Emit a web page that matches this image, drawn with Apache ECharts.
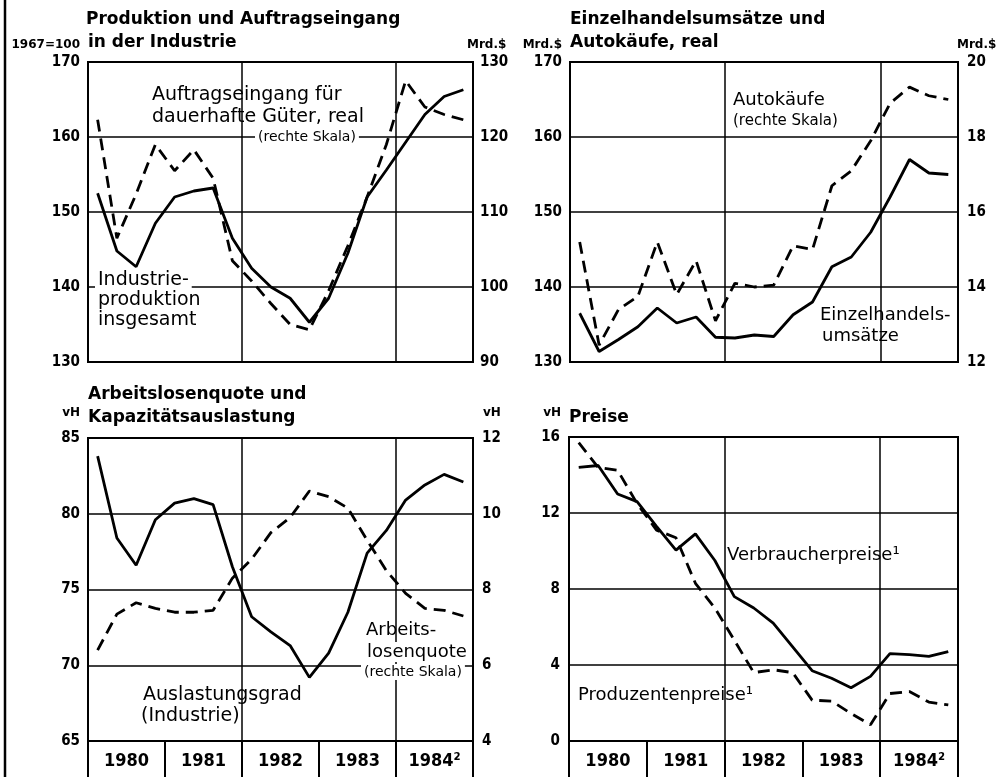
<!DOCTYPE html>
<html>
<head>
<meta charset="utf-8">
<title>USA Konjunktur 1980-1984</title>
<script src="https://cdn.jsdelivr.net/npm/echarts@6.0.0/dist/echarts.min.js"></script>
<style>
  html, body { margin: 0; padding: 0; background: #fff; }
  #main { width: 1003px; height: 777px; }
</style>
</head>
<body>
<div id="main"></div>
<script>
// Quartalswerte 1980 - 1984
var years = ['1980', '1981', '1982', '1983', '1984'];
var yearLabels = ['1980', '1981', '1982', '1983', '1984²'];
var quarters = [];
years.forEach(function (y) {
  ['I', 'II', 'III', 'IV'].forEach(function (q) { quarters.push(q + '/' + y); });
});

// oben links (1967=100 / Mrd.$)
var industrieproduktion = [152.5, 144.8, 142.7, 148.5, 152, 152.8, 153.2, 146.5, 142.5, 140,
  138.5, 135.3, 138.5, 144.5, 152, 155.6, 159.3, 163, 165.4, 166.3];
var auftragseingang = [122.3, 106.5, 112.4, 119, 115.5, 118.3, 114.5, 103.5, 100.8, 97.8,
  95, 94.3, 99.5, 105.5, 112, 119, 127.5, 124, 123, 122.3];

// oben rechts (Mrd.$)
var einzelhandel = [136.5, 131.4, 133, 134.7, 137.2, 135.2, 136, 133.3, 133.2, 133.6,
  133.4, 136.3, 138, 142.7, 144, 147.3, 152, 157, 155.2, 155];
var autokaeufe = [15.2, 12.45, 13.4, 13.75, 15.2, 13.8, 14.7, 13.1, 14.1, 14.0,
  14.05, 15.1, 15.0, 16.7, 17.1, 17.9, 18.9, 19.33, 19.1, 19.0];

// unten links (vH)
var auslastung = [83.8, 78.4, 76.6, 79.6, 80.7, 81.0, 80.6, 76.5, 73.2, 72.2,
  71.3, 69.2, 70.8, 73.5, 77.4, 78.9, 80.9, 81.9, 82.6, 82.1];
var arbeitslosenquote = [6.4, 7.35, 7.65, 7.5, 7.4, 7.4, 7.45, 8.3, 8.8, 9.5,
  9.9, 10.6, 10.45, 10.15, 9.3, 8.5, 7.9, 7.5, 7.45, 7.3];

// unten rechts (vH)
var verbraucherpreise = [14.4, 14.5, 13.0, 12.6, 11.3, 10.05, 10.9, 9.5, 7.6, 7.0,
  6.2, 4.95, 3.7, 3.3, 2.8, 3.4, 4.6, 4.55, 4.45, 4.7];
var produzentenpreise = [15.7, 14.4, 14.25, 12.5, 11.1, 10.7, 8.3, 7.0, 5.3, 3.6,
  3.75, 3.6, 2.15, 2.1, 1.45, 0.85, 2.5, 2.6, 2.05, 1.9];

var FONT = '"DejaVu Sans", sans-serif';
var NUMFONT = '"DejaVu Sans Condensed", "DejaVu Sans", sans-serif';

function qAxis(grid) {
  return {
    type: 'category', gridIndex: grid, data: quarters, boundaryGap: true,
    axisLine: { show: false }, axisTick: { show: false }, axisLabel: { show: false },
    splitLine: {
      show: true,
      // senkrechte Linien nur zu Beginn von 1982 und 1984
      interval: function (i) { return i === 8 || i === 16; },
      lineStyle: { color: '#000', width: 1.5 }
    }
  };
}

function yearAxis(grid) {
  return {
    type: 'category', gridIndex: grid, data: yearLabels, boundaryGap: true, position: 'bottom',
    axisLine: { show: false },
    axisTick: { show: true, length: 36, inside: false, lineStyle: { color: '#000', width: 2 } },
    axisLabel: { margin: 11, color: '#000', fontFamily: NUMFONT, fontWeight: 'bold', fontSize: 18 },
    splitLine: { show: false }
  };
}

function vAxis(grid, pos, min, max, step, lines, margin) {
  return {
    type: 'value', gridIndex: grid, position: pos, min: min, max: max, interval: step,
    axisLine: { show: false }, axisTick: { show: false },
    axisLabel: { margin: margin, color: '#000', fontFamily: NUMFONT, fontWeight: 'bold', fontSize: 15 },
    splitLine: { show: lines, lineStyle: { color: '#000', width: 1.5 } }
  };
}

function line(name, data, x, y, dashed) {
  return {
    name: name, type: 'line', xAxisIndex: x, yAxisIndex: y, data: data,
    symbol: 'none', silent: true,
    lineStyle: { color: '#000', width: 2.8, type: dashed ? [12, 7] : 'solid' }
  };
}

function txt(x, y, s, size, weight, align, bg) {
  var st = {
    text: s, font: (weight || 'normal') + ' ' + size + 'px ' + FONT,
    fill: '#000', align: align || 'left', verticalAlign: 'middle'
  };
  if (bg) { st.backgroundColor = '#fff'; st.padding = [1, 3]; }
  return { type: 'text', x: x, y: y, z: 1, style: st };
}

var gridStyle = { show: true, borderColor: '#000', borderWidth: 2, backgroundColor: 'transparent' };

var option = {
  animation: false,
  grid: [
    Object.assign({ left: 88, top: 62, width: 385, height: 300 }, gridStyle),
    Object.assign({ left: 570, top: 62, width: 388, height: 300 }, gridStyle),
    Object.assign({ left: 88, top: 438, width: 385, height: 303 }, gridStyle),
    Object.assign({ left: 569, top: 437, width: 389, height: 304 }, gridStyle)
  ],
  xAxis: [qAxis(0), qAxis(1), qAxis(2), qAxis(3), yearAxis(2), yearAxis(3)],
  yAxis: [
    vAxis(0, 'left', 130, 170, 10, true, 8),
    vAxis(0, 'right', 90, 130, 10, false, 7),
    vAxis(1, 'left', 130, 170, 10, true, 8),
    vAxis(1, 'right', 12, 20, 2, false, 9),
    vAxis(2, 'left', 65, 85, 5, true, 8),
    vAxis(2, 'right', 4, 12, 2, false, 9),
    vAxis(3, 'left', 0, 16, 4, true, 9)
  ],
  series: [
    line('Industrieproduktion insgesamt', industrieproduktion, 0, 0, false),
    line('Auftragseingang für dauerhafte Güter, real', auftragseingang, 0, 1, true),
    line('Einzelhandelsumsätze', einzelhandel, 1, 2, false),
    line('Autokäufe', autokaeufe, 1, 3, true),
    line('Auslastungsgrad (Industrie)', auslastung, 2, 4, false),
    line('Arbeitslosenquote', arbeitslosenquote, 2, 5, true),
    line('Verbraucherpreise', verbraucherpreise, 3, 6, false),
    line('Produzentenpreise', produzentenpreise, 3, 6, true)
  ],
  graphic: [
    { type: 'line', shape: { x1: 5, y1: 0, x2: 5, y2: 777 }, style: { stroke: '#000', lineWidth: 2.5 } },
    // Titel
    txt(86, 20, 'Produktion und Auftragseingang', 17, 'bold'),
    txt(88, 43, 'in der Industrie', 17, 'bold'),
    txt(570, 20, 'Einzelhandelsumsätze und', 17, 'bold'),
    txt(570, 43, 'Autokäufe, real', 17, 'bold'),
    txt(88, 395, 'Arbeitslosenquote und', 17, 'bold'),
    txt(88, 418, 'Kapazitätsauslastung', 17, 'bold'),
    txt(569, 418, 'Preise', 17, 'bold'),
    // Einheiten
    txt(80, 45, '1967=100', 12, 'bold', 'right'),
    txt(467, 45, 'Mrd.$', 12, 'bold'),
    txt(562, 45, 'Mrd.$', 12, 'bold', 'right'),
    txt(957, 45, 'Mrd.$', 12, 'bold'),
    txt(80, 413, 'vH', 12, 'bold', 'right'),
    txt(483, 413, 'vH', 12, 'bold'),
    txt(561, 413, 'vH', 12, 'bold', 'right'),
    // Beschriftungen in den Diagrammen
    txt(152, 95, 'Auftragseingang für', 19),
    txt(152, 117, 'dauerhafte Güter, real', 19),
    txt(255, 137, '(rechte Skala)', 14, 'normal', 'left', true),
    txt(95, 280, 'Industrie-', 19, 'normal', 'left', true),
    txt(98, 300, 'produktion', 19),
    txt(98, 320, 'insgesamt', 19),
    txt(733, 100, 'Autokäufe', 18),
    txt(733, 121, '(rechte Skala)', 15),
    txt(820, 315, 'Einzelhandels-', 18),
    txt(822, 336, 'umsätze', 18),
    txt(366, 630, 'Arbeits-', 18),
    txt(364, 652, 'losenquote', 18, 'normal', 'left', true),
    txt(361, 672, '(rechte Skala)', 14, 'normal', 'left', true),
    txt(143, 695, 'Auslastungsgrad', 19),
    txt(141, 716, '(Industrie)', 19),
    txt(727, 555, 'Verbraucherpreise¹', 18),
    txt(578, 695, 'Produzentenpreise¹', 18)
  ]
};

var myChart = echarts.init(document.getElementById('main'));
myChart.setOption(option);
</script>
</body>
</html>
